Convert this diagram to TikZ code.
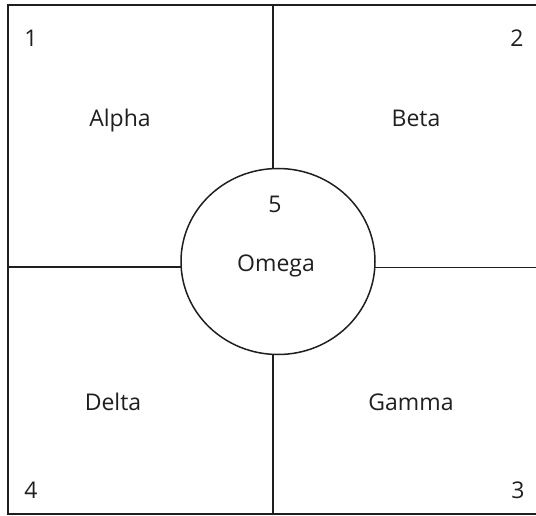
\documentclass[tikz,border=0pt]{standalone}
\usepackage{fontspec}
\setmainfont{Open Sans}
\usetikzlibrary{shapes.geometric, positioning}

\begin{document}
\begin{tikzpicture}[
    x=1pt, y=-1pt,
    % ── Lines: frame and dividers ───────────────────────────────────
    frame/.style={line width=1.6pt, draw=black!88},
    divider/.style={line width=1.5pt, draw=black!88},
    % ── Centre ring ─────────────────────────────────────────────────
    ring/.style={draw=black!88, line width=1.5pt, ellipse,
                 minimum width=194pt, minimum height=186pt, inner sep=0pt},
    % ── Texts ───────────────────────────────────────────────────────
    lbl/.style={font=\fontsize{23}{26}\selectfont, text=black!88,
                anchor=base, inner sep=0pt},
    num/.style={lbl}
]
    \useasboundingbox (0,0) rectangle (536,516);

% ══════════════════════════════════════════════════════════════════════
% FRAME
% ══════════════════════════════════════════════════════════════════════
    \coordinate (tl) at (8,5);
    \coordinate (bl) at (8,514);
    \coordinate (tr) at (536,5);
    \coordinate (br) at (536,514);
    \draw[frame] (tr) -- (tl) -- (bl) -- (br);

% ══════════════════════════════════════════════════════════════════════
% NODE PLACEMENT
% ══════════════════════════════════════════════════════════════════════
    \node[ring] (omega) at (278,261.5) {};

    \node[num] (n1) at (31,47)   {1};
    \node[num] (n2) at (517,47)  {2};
    \node[num] (n3) at (518,498) {3};
    \node[num] (n4) at (31,498)  {4};
    \node[num] (n5) at (275,212) {5};

    \node[lbl] (alpha) at (120,127) {Alpha};
    \node[lbl] (beta)  at (416,127) {Beta};
    \node[lbl] (delta) at (113,410) {Delta};
    \node[lbl] (gamma) at (411,410) {Gamma};
    \node[lbl] (omegatxt) at (276,272) {Omega};

% ══════════════════════════════════════════════════════════════════════
% DIVIDERS
% ══════════════════════════════════════════════════════════════════════
    \coordinate (topmid) at (273,5);
    \coordinate (botmid) at (273,514);
    \coordinate (leftmid) at (8,267);
    \coordinate (rightmid) at (536,267.5);

    \draw[divider] (topmid) -- (topmid |- omega.north);
    \draw[divider] (botmid) -- (botmid |- omega.south);
    \draw[divider] (leftmid) -- ([xshift=0.4pt]omega.west |- leftmid);
    \draw[divider] (rightmid) -- ([xshift=-0.4pt]omega.east |- rightmid);

\end{tikzpicture}
\end{document}
